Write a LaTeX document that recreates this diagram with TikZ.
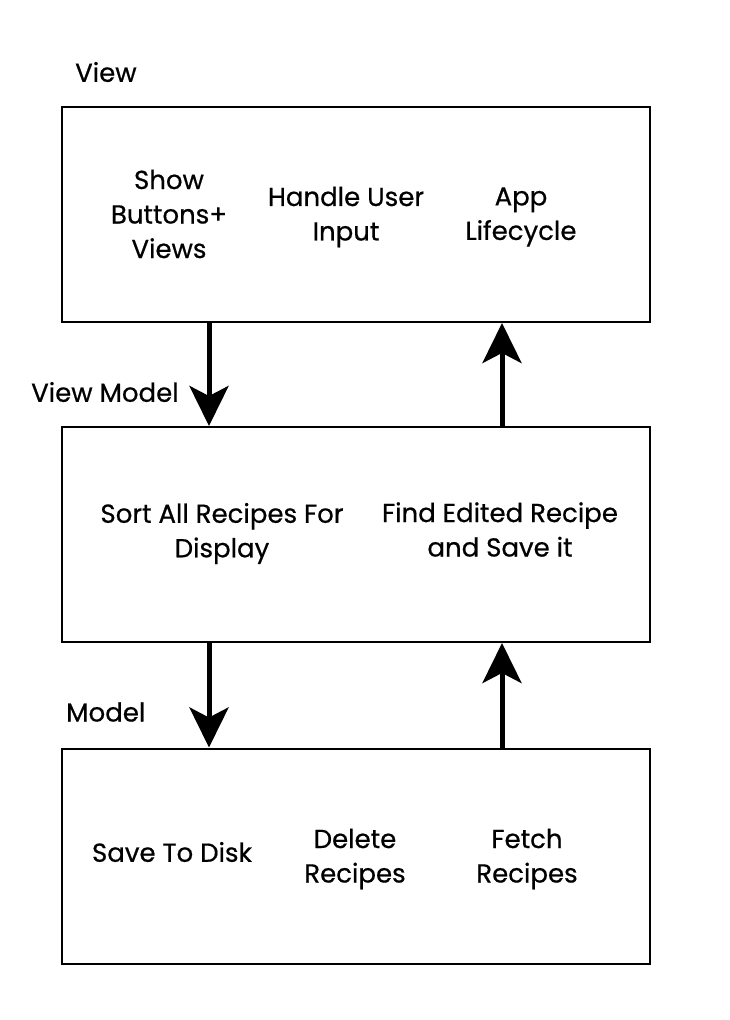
\documentclass[tikz,border=0pt]{standalone}
\usepackage{fontspec}
\setmainfont{Poppins}[FakeBold=0.6]
\usetikzlibrary{arrows.meta}
\begin{document}
\begin{tikzpicture}[x=1pt,y=-1pt,
  layer/.style={draw,line width=2pt,minimum width=588pt,minimum height=215pt,inner sep=0pt},
  txt/.style={font=\fontsize{26}{34.5}\selectfont,align=center,inner sep=0pt},
  ttl/.style={font=\fontsize{26}{34.5}\selectfont,anchor=west,inner sep=0pt},
  flow/.style={line width=5pt,-{Stealth[length=40pt,width=39pt,inset=10pt]}}]
\useasboundingbox (0,0) rectangle (730,1020);
\node[layer] (v) at (356,214.5) {};
\node[layer] (vm) at (356,534.5) {};
\node[layer] (m) at (356,856) {};
\node[ttl] (lv) at (75,72) {View};
\node[ttl] (lvm) at (31,392) {View Model};
\node[ttl] (lm) at (66,712) {Model};
\node[txt] (t1) at (169,214) {Show\\Buttons+\\Views};
\node[txt] (t2) at (346,217) {Handle User\\Input};
\node[txt] (t3) at (521,217) {App\\Lifecycle};
\node[txt] (t4) at (222,533.5) {Sort All Recipes For\\Display};
\node[txt] (t5) at (500,529.5) {Find Edited Recipe\\and Save it};
\node[txt] (t6) at (172,852) {Save To Disk};
\node[txt] (t7) at (355,859) {Delete\\Recipes};
\node[txt] (t8) at (527,859) {Fetch\\Recipes};
\draw[flow] (v.south -| 209,0) -- (vm.north -| 209,0);
\draw[flow] (vm.north -| 502,0) -- (v.south -| 502,0);
\draw[flow] (vm.south -| 209,0) -- (m.north -| 209,0);
\draw[flow] (m.north -| 502,0) -- (vm.south -| 502,0);
\end{tikzpicture}
\end{document}
